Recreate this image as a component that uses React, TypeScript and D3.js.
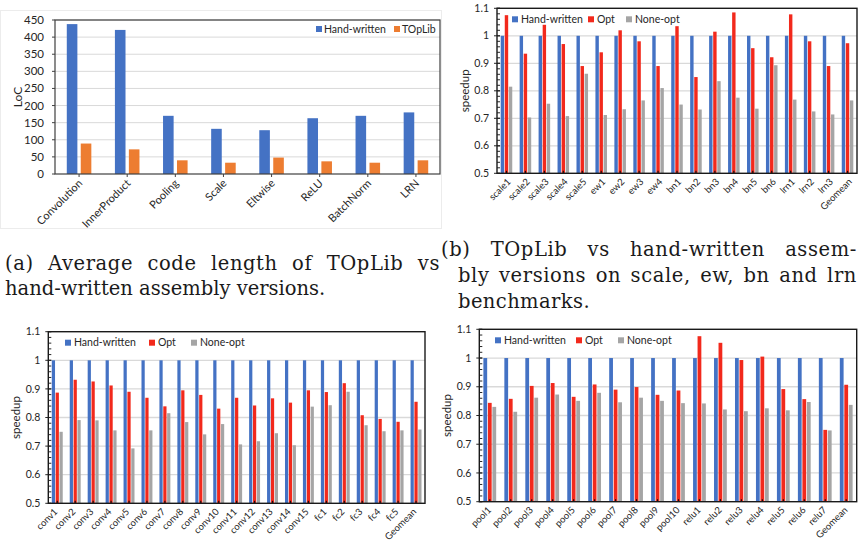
import React, { useLayoutEffect, useRef } from 'react';
import * as d3 from 'd3';

// (a) lines of code
const locCategories = ['Convolution', 'InnerProduct', 'Pooling', 'Scale', 'Eltwise', 'ReLU', 'BatchNorm', 'LRN'];
const locHandWritten = [438, 421, 170, 132, 128, 163, 170, 180];
const locTOpLib = [89, 72, 40, 33, 48, 37, 33, 40];
const locTicks = [0, 50, 100, 150, 200, 250, 300, 350, 400, 450];

// (b) scale, ew, bn, lrn
const benchB = ['scale1', 'scale2', 'scale3', 'scale4', 'scale5', 'ew1', 'ew2', 'ew3', 'ew4', 'bn1', 'bn2', 'bn3', 'bn4', 'bn5', 'bn6', 'lrn1', 'lrn2', 'lrn3', 'Geomean'];
const handB = [1, 1, 1, 1, 1, 1, 1, 1, 1, 1, 1, 1, 1, 1, 1, 1, 1, 1, 1];
const optB = [1.075, 0.935, 1.04, 0.97, 0.89, 0.94, 1.02, 0.98, 0.89, 1.035, 0.85, 1.015, 1.085, 0.955, 0.922, 1.078, 0.98, 0.89, 0.973];
const noneB = [0.815, 0.703, 0.753, 0.708, 0.862, 0.712, 0.733, 0.765, 0.81, 0.75, 0.732, 0.835, 0.775, 0.735, 0.893, 0.768, 0.725, 0.714, 0.765];

// (c) conv, fc
const benchC = ['conv1', 'conv2', 'conv3', 'conv4', 'conv5', 'conv6', 'conv7', 'conv8', 'conv9', 'conv10', 'conv11', 'conv12', 'conv13', 'conv14', 'conv15', 'fc1', 'fc2', 'fc3', 'fc4', 'fc5', 'Geomean'];
const handC = [1, 1, 1, 1, 1, 1, 1, 1, 1, 1, 1, 1, 1, 1, 1, 1, 1, 1, 1, 1, 1];
const optC = [0.887, 0.932, 0.926, 0.912, 0.89, 0.869, 0.839, 0.895, 0.879, 0.831, 0.869, 0.842, 0.867, 0.852, 0.895, 0.889, 0.92, 0.808, 0.795, 0.785, 0.855];
const noneC = [0.75, 0.791, 0.79, 0.755, 0.692, 0.755, 0.815, 0.784, 0.741, 0.777, 0.706, 0.717, 0.745, 0.703, 0.838, 0.843, 0.89, 0.773, 0.752, 0.755, 0.758];

// (d) pool, relu
const benchD = ['pool1', 'pool2', 'pool3', 'pool4', 'pool5', 'pool6', 'pool7', 'pool8', 'pool9', 'pool10', 'relu1', 'relu2', 'relu3', 'relu4', 'relu5', 'relu6', 'relu7', 'Geomean'];
const handD = [1, 1, 1, 1, 1, 1, 1, 1, 1, 1, 1, 1, 1, 1, 1, 1, 1, 1];
const optD = [0.844, 0.858, 0.903, 0.913, 0.865, 0.908, 0.89, 0.899, 0.872, 0.887, 1.076, 1.053, 0.993, 1.005, 0.892, 0.857, 0.75, 0.907];
const noneD = [0.83, 0.813, 0.862, 0.873, 0.851, 0.879, 0.846, 0.862, 0.851, 0.843, 0.842, 0.821, 0.815, 0.825, 0.818, 0.847, 0.748, 0.837];

const speedTicks = [0.5, 0.6, 0.7, 0.8, 0.9, 1, 1.1];
const speedMinor = d3.range(0.5, 1.1001, 0.02);

const BLUE = '#4472c4';
const ORANGE = '#ed7d31';
const RED = '#f2291c';
const GRAY = '#a5a5a5';
const GRID = '#d9d9d9';
const FONT = 'Lato, "Open Sans", sans-serif';
const SERIF = '"DejaVu Serif", "Liberation Serif", serif';

function LocChart() {
  const f = { left: 55, top: 20, right: 440, bottom: 174 };
  const x = d3.scaleBand().domain(locCategories).range([f.left, f.right]);
  const y = d3.scaleLinear().domain([0, 450]).range([f.bottom, f.top]);
  const band = x.bandwidth();
  const bw = band * 0.22;
  const gap = band * 0.07;
  return (
    <g fontFamily={FONT}>
      <rect x={0.5} y={10.5} width={441} height={218} fill="none" stroke="#ececec" />
      {locTicks.map(t => (
        <g key={t}>
          {t > 0 && <line x1={f.left} x2={f.right} y1={y(t)} y2={y(t)} stroke={GRID} strokeWidth={1} />}
          <line x1={f.left - 3} x2={f.left} y1={y(t)} y2={y(t)} stroke="#404040" />
          <text x={f.left - 11} y={y(t)} dy="0.35em" textAnchor="end" fontSize={11.5} fill="#262626">{t}</text>
        </g>
      ))}
      {locCategories.map((c, i) => {
        const cx = x(c)! + band / 2;
        return (
          <g key={c}>
            <rect x={cx - gap / 2 - bw} y={y(locHandWritten[i])} width={bw} height={f.bottom - y(locHandWritten[i])} fill={BLUE} />
            <rect x={cx + gap / 2} y={y(locTOpLib[i])} width={bw} height={f.bottom - y(locTOpLib[i])} fill={ORANGE} />
            <line x1={cx} x2={cx} y1={f.bottom} y2={f.bottom + 3} stroke="#404040" />
            <text transform={`translate(${cx + 4},${f.bottom + 10}) rotate(-45)`} textAnchor="end" fontSize={11} fill="#262626">{c}</text>
          </g>
        );
      })}
      <rect x={f.left} y={f.top} width={f.right - f.left} height={f.bottom - f.top} fill="none" stroke="#404040" strokeWidth={1.2} />
      <text transform={`translate(18,${(f.top + f.bottom) / 2}) rotate(-90)`} textAnchor="middle" dy="0.35em" fontSize={12} fill="#262626">LoC</text>
      <rect x={316} y={26} width={6} height={6} fill={BLUE} />
      <text x={324} y={29} dy="0.35em" fontSize={10.5} fill="#262626">Hand-written</text>
      <rect x={394} y={26} width={6} height={6} fill={ORANGE} />
      <text x={402} y={29} dy="0.35em" fontSize={10.5} fill="#262626">TOpLib</text>
    </g>
  );
}

type SpeedProps = {
  f: { left: number; top: number; right: number; bottom: number };
  cats: string[];
  hand: number[];
  opt: number[];
  none: number[];
  legendX: number[];
  labelDx: number;
};

function SpeedupChart({ f, cats, hand, opt, none, legendX, labelDx }: SpeedProps) {
  const x = d3.scaleBand().domain(cats).range([f.left, f.right]);
  const y = d3.scaleLinear().domain([0.5, 1.1]).range([f.bottom, f.top]);
  const band = x.bandwidth();
  const pitch = band * 0.215;
  const bw = band * 0.18;
  const series = [
    { vals: hand, color: BLUE, off: -pitch },
    { vals: opt, color: RED, off: 0 },
    { vals: none, color: GRAY, off: pitch },
  ];
  const legend = [
    { name: 'Hand-written', color: BLUE },
    { name: 'Opt', color: RED },
    { name: 'None-opt', color: GRAY },
  ];
  const ly = f.top + 11;
  return (
    <g fontFamily={FONT}>
      {speedTicks.map(t => (
        <g key={t}>
          {t > 0.5 && t < 1.1 && <line x1={f.left} x2={f.right} y1={y(t)} y2={y(t)} stroke={GRID} strokeWidth={1.3} />}
          <line x1={f.left - 3} x2={f.left + 3} y1={y(t)} y2={y(t)} stroke="#262626" />
          <text x={f.left - 8} y={y(t)} dy="0.35em" textAnchor="end" fontSize={10.5} fill="#262626">{t}</text>
        </g>
      ))}
      {speedMinor.map((t, i) => (
        <line key={i} x1={f.left} x2={f.left + 3} y1={y(t)} y2={y(t)} stroke="#262626" />
      ))}
      {cats.map((c, i) => {
        const cx = x(c)! + band / 2;
        return (
          <g key={c}>
            {series.map((s, j) => (
              <rect key={j} x={cx + s.off - bw / 2} y={y(s.vals[i])} width={bw} height={f.bottom - y(s.vals[i])} fill={s.color} />
            ))}
            <line x1={cx} x2={cx} y1={f.bottom} y2={f.bottom - 2.5} stroke="#111" strokeWidth={1.2} />
            <text transform={`translate(${cx + labelDx},${f.bottom + 9}) rotate(-45)`} textAnchor="end" fontSize={9.5} fill="#262626">{c}</text>
          </g>
        );
      })}
      <rect x={f.left} y={f.top} width={f.right - f.left} height={f.bottom - f.top} fill="none" stroke="#1a1a1a" strokeWidth={1.4} />
      <text transform={`translate(${f.left - 32},${(f.top + f.bottom) / 2}) rotate(-90)`} textAnchor="middle" dy="0.35em" fontSize={11.5} fill="#262626">speedup</text>
      {legend.map((l, i) => (
        <g key={l.name}>
          <rect x={legendX[i] - 3} y={ly - 3} width={6} height={6} fill={l.color} />
          <text x={legendX[i] + 6} y={ly} dy="0.35em" fontSize={10.5} fill="#262626">{l.name}</text>
        </g>
      ))}
    </g>
  );
}

// caption line: justified lines stretch the word gaps, last lines stretch letters slightly
function Caption({ x, y, text, width, justify }: { x: number; y: number; text: string; width: number; justify?: boolean }) {
  const ref = useRef<SVGTextElement>(null);
  useLayoutEffect(() => {
    const el = ref.current;
    if (!el) return;
    el.setAttribute('word-spacing', '0');
    el.setAttribute('letter-spacing', '0');
    const natural = el.getComputedTextLength();
    const chars = text.length;
    const spaces = text.split(' ').length - 1;
    // widen glyphs a little (the reference face is wider), rest goes to the word gaps
    const ls = Math.min(0.6, Math.max(0, (width - natural) / chars));
    el.setAttribute('letter-spacing', String(ls));
    if (justify && spaces > 0) {
      const rest = width - natural - ls * chars;
      el.setAttribute('word-spacing', String(Math.max(0, rest / spaces)));
    }
  }, [text, width, justify]);
  return (
    <text ref={ref} x={x} y={y} fontFamily={SERIF} fontSize={19.5} fill="#1a1a1a">{text}</text>
  );
}

export default function App() {
  return (
    <svg width={862} height={546} style={{ position: 'absolute', left: 0, top: 0, background: '#fff' }}>
      <rect width={862} height={546} fill="#fff" />
      <LocChart />
      <SpeedupChart f={{ left: 497, top: 8.3, right: 857, bottom: 173.3 }} cats={benchB} hand={handB} opt={optB} none={noneB}
        legendX={[515, 591, 629]} labelDx={5} />
      <SpeedupChart f={{ left: 48.3, top: 331.7, right: 425, bottom: 503.3 }} cats={benchC} hand={handC} opt={optC} none={noneC}
        legendX={[68, 152, 194]} labelDx={1} />
      <SpeedupChart f={{ left: 479.3, top: 329.3, right: 856.7, bottom: 501.7 }} cats={benchD} hand={handD} opt={optD} none={noneD}
        legendX={[498, 579, 621]} labelDx={2} />
      <Caption x={5} y={270} text="(a) Average code length of TOpLib vs" width={435} justify />
      <Caption x={5} y={295} text="hand-written assembly versions." width={258} />
      <Caption x={441} y={256} text="(b) TOpLib vs hand-written assem-" width={416} justify />
      <Caption x={458} y={282} text="bly versions on scale, ew, bn and lrn" width={399} justify />
      <Caption x={458} y={308} text="benchmarks." width={132} />
    </svg>
  );
}
